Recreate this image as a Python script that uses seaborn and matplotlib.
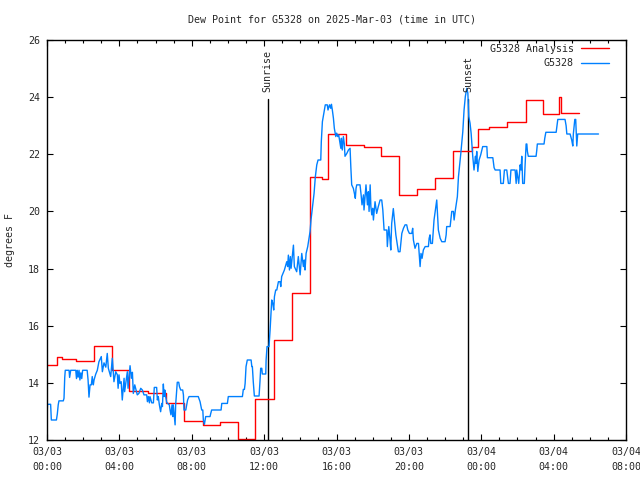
import numpy as np
import pandas as pd
import matplotlib
matplotlib.use("Agg")
import matplotlib.pyplot as plt
import seaborn as sns

# ---------------- data ----------------
title = "Dew Point for G5328 on 2025-Mar-03 (time in UTC)"
ylabel = "degrees F"
start = pd.Timestamp("2025-03-03 00:00")
analysis_label = "G5328 Analysis"
obs_label = "G5328"

# analysis (hourly steps): (hours since start, value)
analysis_points = [
    (0.00, 14.61), (0.57, 14.89), (0.85, 14.85), (1.59, 14.75), (2.60, 15.29),
    (3.60, 14.44), (4.55, 13.70), (5.60, 13.66), (6.56, 13.30), (7.57, 12.65),
    (8.60, 12.51), (9.56, 12.62), (10.58, 12.02), (11.52, 13.42), (12.52, 15.50),
    (13.52, 17.13), (14.52, 21.21), (15.20, 21.14), (15.52, 22.72), (16.55, 22.33),
    (17.50, 22.24), (18.45, 21.94), (19.45, 20.56), (20.45, 20.80), (21.45, 21.16),
    (22.46, 22.10), (23.47, 22.27), (23.82, 22.88), (24.45, 22.95), (25.45, 23.13),
    (26.45, 23.89), (27.42, 23.41), (28.30, 24.02), (28.40, 23.43), (29.40, 23.43),
]

# station observations: (hours since start, value)
obs_points = [
    (0.00, 12.88), (0.03, 13.25), (0.20, 13.25), (0.24, 12.70), (0.52, 12.70),
    (0.57, 12.91), (0.62, 13.23), (0.66, 13.37), (0.90, 13.37), (0.94, 13.46),
    (0.98, 14.19), (1.01, 14.44), (1.22, 14.44), (1.25, 14.19), (1.31, 14.44),
    (1.59, 14.44), (1.63, 14.15), (1.67, 14.44), (1.72, 14.20), (1.77, 14.44),
    (1.82, 14.10), (1.87, 14.35), (1.92, 14.15), (1.97, 14.44), (2.22, 14.44),
    (2.27, 14.10), (2.32, 13.50), (2.38, 13.93), (2.45, 13.93), (2.50, 14.22),
    (2.56, 13.93), (2.60, 14.10), (2.69, 14.30), (2.78, 14.44), (2.82, 14.57),
    (2.87, 14.74), (3.00, 14.92), (3.06, 14.39), (3.15, 14.70), (3.25, 14.55),
    (3.33, 15.03), (3.39, 14.51), (3.52, 14.22), (3.61, 14.86), (3.70, 14.04),
    (3.80, 14.39), (3.89, 14.28), (3.93, 13.81), (3.98, 14.28), (4.03, 13.98),
    (4.10, 14.04), (4.16, 13.40), (4.26, 14.16), (4.29, 13.69), (4.44, 14.39),
    (4.48, 13.81), (4.59, 14.60), (4.66, 14.16), (4.72, 14.37), (4.77, 13.63),
    (4.85, 13.93), (4.99, 13.58), (5.08, 13.63), (5.18, 13.81), (5.27, 13.75),
    (5.36, 13.58), (5.51, 13.58), (5.55, 13.34), (5.60, 13.52), (5.66, 13.30),
    (5.69, 13.52), (5.79, 13.30), (5.88, 13.30), (5.93, 13.84), (6.06, 13.84),
    (6.10, 13.40), (6.15, 13.52), (6.21, 13.23), (6.28, 12.99), (6.34, 13.28),
    (6.38, 13.17), (6.43, 13.96), (6.47, 13.52), (6.51, 13.75), (6.54, 13.58),
    (6.62, 13.31), (6.76, 13.23), (6.80, 13.05), (6.85, 12.88), (6.91, 13.23),
    (6.95, 12.82), (6.98, 13.23), (7.08, 12.53), (7.11, 13.23), (7.17, 13.75),
    (7.20, 14.02), (7.28, 14.02), (7.32, 13.87), (7.39, 13.75), (7.50, 13.75),
    (7.54, 13.58), (7.57, 13.05), (7.67, 13.05), (7.72, 13.23), (7.77, 13.40),
    (7.85, 13.52), (8.36, 13.52), (8.46, 13.34), (8.55, 13.05), (8.61, 13.05),
    (8.64, 12.70), (8.70, 12.55), (8.77, 12.82), (9.01, 12.82), (9.05, 12.93),
    (9.10, 13.05), (9.62, 13.05), (9.66, 13.28), (9.97, 13.28), (10.02, 13.52),
    (10.80, 13.52), (10.85, 13.77), (10.91, 13.77), (10.95, 13.98), (11.00, 14.57),
    (11.07, 14.80), (11.28, 14.80), (11.32, 14.57), (11.35, 14.57), (11.40, 14.04),
    (11.46, 13.54), (11.72, 13.54), (11.77, 14.04), (11.81, 14.51), (11.87, 14.51),
    (11.90, 14.31), (12.09, 14.31), (12.11, 14.80), (12.16, 15.27), (12.27, 15.27),
    (12.33, 15.85), (12.38, 16.43), (12.42, 16.90), (12.48, 16.78), (12.53, 16.55),
    (12.57, 17.02), (12.64, 17.25), (12.70, 17.25), (12.79, 17.54), (12.88, 17.54),
    (12.92, 17.37), (12.97, 17.72), (13.12, 17.95), (13.25, 18.24), (13.30, 18.07),
    (13.34, 18.47), (13.40, 17.95), (13.45, 18.42), (13.49, 18.01), (13.62, 18.82),
    (13.67, 18.07), (13.80, 17.89), (13.89, 18.42), (13.99, 17.78), (14.08, 18.53),
    (14.17, 18.07), (14.22, 18.30), (14.26, 17.95), (14.32, 18.53), (14.41, 18.77),
    (14.48, 19.06), (14.54, 19.30), (14.59, 19.70), (14.69, 20.23), (14.76, 20.63),
    (14.83, 21.21), (14.91, 21.63), (14.98, 21.80), (15.13, 21.80), (15.16, 22.44),
    (15.22, 23.14), (15.27, 23.32), (15.35, 23.61), (15.38, 23.73), (15.49, 23.73),
    (15.53, 23.55), (15.61, 23.73), (15.68, 23.61), (15.72, 23.75), (15.77, 23.55),
    (15.83, 23.26), (15.88, 22.91), (15.96, 22.62), (16.01, 22.74), (16.07, 22.62),
    (16.12, 22.68), (16.18, 22.44), (16.24, 22.21), (16.27, 22.56), (16.32, 22.15),
    (16.38, 22.62), (16.43, 22.38), (16.47, 21.93), (16.57, 22.03), (16.66, 22.15),
    (16.75, 22.21), (16.79, 21.58), (16.84, 20.93), (16.93, 20.81), (16.99, 20.63),
    (17.04, 20.46), (17.08, 20.81), (17.12, 20.93), (17.30, 20.93), (17.36, 20.58),
    (17.41, 20.23), (17.49, 20.58), (17.52, 20.05), (17.63, 20.93), (17.71, 20.23),
    (17.76, 20.69), (17.80, 20.00), (17.86, 20.93), (17.90, 20.17), (17.95, 19.88),
    (18.00, 20.11), (18.04, 19.70), (18.13, 20.34), (18.22, 19.93), (18.31, 20.17),
    (18.41, 20.40), (18.50, 20.40), (18.56, 20.05), (18.63, 19.35), (18.78, 19.35),
    (18.81, 18.77), (18.89, 19.47), (18.96, 19.00), (19.00, 18.65), (19.05, 19.58),
    (19.14, 20.10), (19.20, 19.70), (19.28, 19.18), (19.42, 18.59), (19.51, 18.59),
    (19.61, 19.23), (19.70, 19.41), (19.79, 19.53), (19.88, 19.53), (19.94, 19.35),
    (20.03, 19.23), (20.16, 19.23), (20.21, 19.41), (20.25, 19.00), (20.34, 18.71),
    (20.44, 18.88), (20.53, 18.88), (20.58, 18.42), (20.62, 18.07), (20.67, 18.53),
    (20.73, 18.36), (20.80, 18.65), (20.90, 18.77), (21.08, 18.77), (21.12, 19.06),
    (21.17, 19.18), (21.21, 18.88), (21.30, 18.88), (21.39, 19.70), (21.54, 20.40),
    (21.63, 19.35), (21.73, 19.06), (21.82, 18.94), (22.00, 18.94), (22.06, 19.18),
    (22.09, 19.47), (22.28, 19.47), (22.37, 20.00), (22.46, 20.00), (22.50, 19.70),
    (22.57, 20.05), (22.68, 20.52), (22.74, 21.21), (22.87, 22.03), (22.98, 22.79),
    (23.05, 23.55), (23.12, 24.02), (23.20, 24.31), (23.26, 24.14), (23.31, 23.32),
    (23.38, 23.09), (23.44, 22.74), (23.49, 22.27), (23.53, 21.93), (23.60, 21.45),
    (23.68, 21.93), (23.71, 21.68), (23.75, 22.10), (23.81, 21.40), (23.88, 21.80),
    (23.97, 21.98), (24.08, 22.27), (24.31, 22.27), (24.34, 21.88), (24.64, 21.88),
    (24.71, 21.53), (24.77, 21.45), (25.04, 21.45), (25.08, 20.98), (25.22, 20.98),
    (25.28, 21.45), (25.41, 21.45), (25.50, 20.98), (25.59, 20.98), (25.64, 21.45),
    (25.87, 21.45), (25.93, 20.98), (25.96, 21.45), (26.00, 21.28), (26.07, 20.98),
    (26.15, 21.63), (26.20, 21.45), (26.24, 21.93), (26.29, 20.98), (26.38, 20.98),
    (26.42, 21.58), (26.48, 22.36), (26.52, 22.36), (26.55, 22.10), (26.60, 21.93),
    (27.03, 21.93), (27.07, 22.15), (27.10, 22.36), (27.47, 22.36), (27.51, 22.56),
    (27.57, 22.77), (28.14, 22.77), (28.18, 22.97), (28.23, 23.22), (28.63, 23.22),
    (28.69, 23.00), (28.73, 22.71), (28.91, 22.71), (29.00, 22.50), (29.06, 22.29),
    (29.09, 22.71), (29.17, 23.22), (29.22, 23.22), (29.28, 22.29), (29.33, 22.71),
    (30.48, 22.71),
]

sunrise_hour = 12.20
sunset_hour = 23.29
sun_labels = ["Sunrise", "Sunset"]

x_tick_hours = [0, 4, 8, 12, 16, 20, 24, 28, 32]
x_tick_labels = ["03/03\n00:00", "03/03\n04:00", "03/03\n08:00", "03/03\n12:00",
                 "03/03\n16:00", "03/03\n20:00", "03/04\n00:00", "03/04\n04:00",
                 "03/04\n08:00"]
y_ticks = [12, 14, 16, 18, 20, 22, 24, 26]

# ---------------- build frames ----------------
def to_time(h):
    return start + pd.to_timedelta(np.asarray(h, dtype=float), unit="h")

ana_df = pd.DataFrame(analysis_points, columns=["hour", "dewpoint"])
ana_df["time"] = to_time(ana_df["hour"])
obs_df = pd.DataFrame(obs_points, columns=["hour", "dewpoint"])
obs_df["time"] = to_time(obs_df["hour"])

# ---------------- plot ----------------
sns.set_style("ticks")
plt.rcParams["font.family"] = ["DejaVu Sans Mono"]
FS = 7.2

fig = plt.figure(figsize=(6.4, 4.8), dpi=100)
ax = fig.add_axes([47 / 640, 40 / 480, 579 / 640, 400 / 480])

for h, lab in zip([sunrise_hour, sunset_hour], sun_labels):
    t = to_time([h])[0]
    ax.plot([t, t], [12, 23.94], color="black", lw=1.0, zorder=1)
    ax.text(t, 24.18, lab, rotation=90, ha="center", va="bottom", fontsize=FS)

sns.lineplot(data=ana_df, x="time", y="dewpoint", ax=ax, color="#ff0000", lw=1.0,
             drawstyle="steps-post", estimator=None, sort=False, label=analysis_label)
sns.lineplot(data=obs_df, x="time", y="dewpoint", ax=ax, color="#0080ff", lw=1.0,
             estimator=None, sort=False, label=obs_label)

ax.set_xlim(to_time([0])[0], to_time([32])[0])
ax.set_ylim(12, 26)
ax.set_xticks(to_time(x_tick_hours))
ax.set_xticklabels(x_tick_labels, fontsize=FS, linespacing=1.6)
ax.set_xticks(to_time(list(range(0, 33))), minor=True)
ax.set_yticks(y_ticks)
ax.set_yticklabels([str(v) for v in y_ticks], fontsize=FS)
ax.tick_params(axis="both", which="both", direction="in", top=True, right=True,
               color="black", width=0.8)
ax.tick_params(axis="x", which="major", length=4.5, pad=5)
ax.tick_params(axis="x", which="minor", length=2.5)
ax.tick_params(axis="y", which="major", length=4.5, pad=5)
ax.set_xlabel("")
ax.set_ylabel("")
for s in ax.spines.values():
    s.set_color("black")
    s.set_linewidth(1.0)

ax.legend(loc="upper right", bbox_to_anchor=(0.979, 1.003), frameon=False,
          markerfirst=False, handlelength=2.8, handletextpad=0.7, borderpad=0,
          labelspacing=0.45, fontsize=FS)

fig.text(332 / 640, 1 - 20 / 480, title, ha="center", va="center", fontsize=FS)
fig.text(10 / 640, 0.5, ylabel, ha="center", va="center", rotation=90, fontsize=FS)

fig.savefig("out.png", dpi=100, facecolor="white")
